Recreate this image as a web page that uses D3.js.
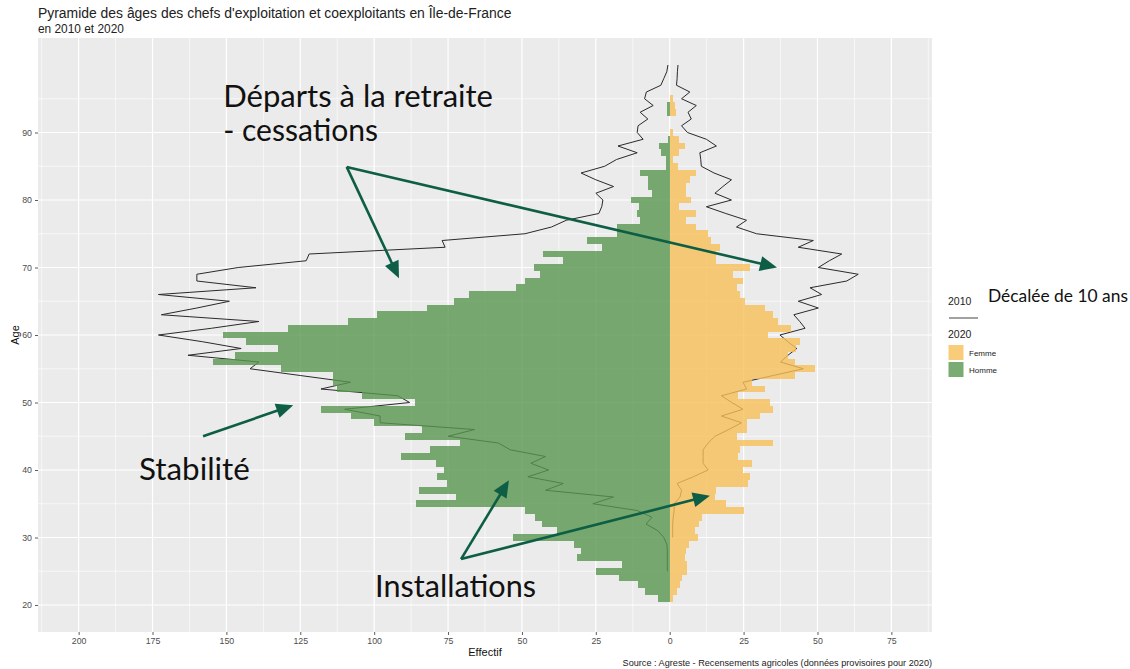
<!DOCTYPE html>
<html><head><meta charset="utf-8">
<script src="https://cdn.jsdelivr.net/npm/d3@7"></script>
<style>body{margin:0;background:#fff}svg{display:block}</style>
</head><body>
<svg id="c" width="1130" height="669"></svg>
<script>
// ---------- data ----------
const ages2020 = [21,22,23,24,25,26,27,28,29,30,31,32,33,34,35,36,37,38,39,40,
  41,42,43,44,45,46,47,48,49,50,51,52,53,54,55,56,57,58,59,60,
  61,62,63,64,65,66,67,68,69,70,71,72,73,74,75,76,77,78,79,80,
  81,82,83,84,85,86,87,88,89,90,91,92,93,94,95];
const hommes2020 = [4,8.5,10.7,17,25,16,31.5,30,32.5,53,
  38.2,43.3,45.6,49,86,72.2,84.7,75.4,78.9,76.3,
  79.2,90.9,81,71,89.7,83.8,100,108,118,86.2,
  104,112.6,113.8,113.8,131.4,154.4,147.1,132.6,143.5,151.3,
  129,109,99,82,73,68,52,49,44,46,
  36,43,23,28,18,18,10,11,10.5,13,
  6,7.5,7.5,10,1.4,1.4,2.8,3.6,0.6,0,
  0,0,0.8,0.8,0];
const femmes2020 = [1.1,2.3,3.4,4,6,6,5.2,5.5,6.5,9.5,
  8.5,10,11,25,19,15.3,15.8,26.6,27.1,24.9,
  27.7,23.2,23.7,35,22.6,26,26,30.5,35,33.9,
  23.2,32.2,27.7,42.4,49,42.4,40,42.7,44,33.3,
  41.2,36.7,35,32.2,25.4,23.7,22.6,24.9,21.5,27.1,
  15.8,15.8,17,14.1,13,9,5.6,9,3,7.3,
  5.6,5.4,6.8,9,2.8,1,3.2,5.1,3.2,1,
  0,0,2,1.7,1];

// 2010 (shifted by 10 years: plotted at age + 10)
const agesH2010 = [25,26,27,28,29,30,31,32,33,34,35,36,37,38,39,40,
  41,42,43,44,45,46,47,48,49,50,51,52,53,54,55,56,57,58,59,60,
  61,62,63,64,65,66,67,68,69,70,71,72,73,74,75,76,77,78,79,80,
  81,82,83,84,85,86,87,88,89,90,91,92,93,94,95,96,97,98,99,100];
const hommes2010 = [0.8,0.8,0.8,0.8,1,2,4,8,6,11,
  26,19,42,36,48,41,47,42,54,58,
  75,66,98,98,110,88,92,118,108,125,
  142,139,163,145,158,173,155,139,172,160,
  149,173,140,160,160,146,123,122,76,77,
  49,40,35,24,23,22.6,25,19,25,30,
  22,18,11,17.5,9,11,10.7,7.4,10,5.6,
  8.5,7.9,3,2,1,0.6];
const agesF2010 = [30,31,32,33,34,35,36,37,38,39,40,
  41,42,43,44,45,46,47,48,49,50,51,52,53,54,55,56,57,58,59,60,
  61,62,63,64,65,66,67,68,69,70,71,72,73,74,75,76,77,78,79,80,
  81,82,83,84,85,86,87,88,89,90,91,92,93,94,95,96,97,98,99,100];
const femmes2010 = [1,1,1,1.2,1.5,1.5,3.5,4,2.5,8,
  13,11.3,11.3,11.3,13,15.3,20,24.3,17.5,24.8,
  21,17.5,26,24.8,35,45.2,37.5,40,43,40,
  37.3,45.8,44,42,50.3,43.5,51.4,47.5,59.9,63.8,
  50.3,54,58.2,43.5,48.6,29.4,22.6,26,19,12.4,
  20.9,15.3,18,20.9,15,10.7,10.5,10.2,15.8,12.4,
  6,4,7.3,6.2,9,4,6.8,2.3,2.5,2.6,2.8];

const xTicks = [-200,-175,-150,-125,-100,-75,-50,-25,0,25,50,75];
const yTicks = [20,30,40,50,60,70,80,90];

// annotations (in data coordinates: effectif signed, age)
const annotTexts = ["Départs à la retraite", "- cessations", "Stabilité", "Installations"];
const annotPos = [[-151.1, 93.8], [-151.1, 88.8], [-179.6, 38.5], [-99.7, 21.2]];
const annotWidth = [270, 155, 111, 161];
const arrows = [
  [[-109.3, 84.9], [-91.6, 68.4]],
  [[-109.3, 84.9], [36.3, 70.0]],
  [[-157.9, 45.0], [-127.4, 49.6]],
  [[-70.6, 26.8], [-54.4, 38.5]],
  [[-70.6, 26.8], [13.6, 36.2]]
];

// ---------- layout ----------
const svg = d3.select("#c");
const P = {l: 38, r: 932, t: 38, b: 632};
const x = d3.scaleLinear().domain([-213.75, 88.75]).range([P.l, P.r]);
const y = d3.scaleLinear().domain([16, 104]).range([P.b, P.t]);

const GREEN = "#59964F", YELLOW = "#F8BF59", ARROW = "#0D5E45";
const SANS = "'Liberation Sans', Arial, sans-serif";
const ANN = "Lato, 'Open Sans', sans-serif";

svg.append("rect").attr("width", 1130).attr("height", 669).attr("fill", "#fff");
svg.append("rect").attr("x", P.l).attr("y", P.t).attr("width", P.r - P.l).attr("height", P.b - P.t).attr("fill", "#EBEBEB");

// minor grid
const xMinor = [xTicks[0] - 12.5].concat(xTicks.map(d => d + 12.5)).filter(d => d > -213.75 && d < 88.75);
const yMinor = yTicks.map(d => d + 5).concat([yTicks[0] - 5]).filter(d => d > 16 && d < 104);
const g = svg.append("g");
g.selectAll(".xm").data(xMinor).join("line").attr("x1", d => x(d)).attr("x2", d => x(d))
  .attr("y1", P.t).attr("y2", P.b).attr("stroke", "#fff").attr("stroke-width", 0.6);
g.selectAll(".ym").data(yMinor).join("line").attr("y1", d => y(d)).attr("y2", d => y(d))
  .attr("x1", P.l).attr("x2", P.r).attr("stroke", "#fff").attr("stroke-width", 0.6);
g.selectAll(".xM").data(xTicks).join("line").attr("x1", d => x(d)).attr("x2", d => x(d))
  .attr("y1", P.t).attr("y2", P.b).attr("stroke", "#fff").attr("stroke-width", 1.2);
g.selectAll(".yM").data(yTicks).join("line").attr("y1", d => y(d)).attr("y2", d => y(d))
  .attr("x1", P.l).attr("x2", P.r).attr("stroke", "#fff").attr("stroke-width", 1.2);

// 2010 lines (under the translucent bars)
const line = d3.line().x(d => x(d[0])).y(d => y(d[1]));
svg.append("path").datum(agesH2010.map((a, i) => [-hommes2010[i], a]))
  .attr("d", line).attr("fill", "none").attr("stroke", "#2a2a2a").attr("stroke-width", 1);
svg.append("path").datum(agesF2010.map((a, i) => [femmes2010[i], a]))
  .attr("d", line).attr("fill", "none").attr("stroke", "#2a2a2a").attr("stroke-width", 1);

// 2020 bars (edges snapped to whole pixels so neighbouring bars meet without seams)
const yTop = a => Math.round(y(a + 0.5)), yBot = a => Math.round(y(a - 0.5));
const x0 = Math.round(x(0));
const bars = svg.append("g").attr("fill-opacity", 0.8).attr("shape-rendering", "crispEdges");
bars.selectAll(".h").data(ages2020.map((a, i) => [a, hommes2020[i]])).join("rect")
  .attr("x", d => x(-d[1])).attr("width", d => Math.max(0, x0 - x(-d[1])))
  .attr("y", d => yTop(d[0])).attr("height", d => yBot(d[0]) - yTop(d[0]))
  .attr("fill", GREEN);
bars.selectAll(".f").data(ages2020.map((a, i) => [a, femmes2020[i]])).join("rect")
  .attr("x", x0).attr("width", d => Math.max(0, x(d[1]) - x0))
  .attr("y", d => yTop(d[0])).attr("height", d => yBot(d[0]) - yTop(d[0]))
  .attr("fill", YELLOW);

// axes
const xAxis = svg.append("g").attr("transform", `translate(0,${P.b})`)
  .call(d3.axisBottom(x).tickValues(xTicks).tickFormat(d => Math.abs(d)).tickSize(3).tickPadding(3));
const yAxis = svg.append("g").attr("transform", `translate(${P.l},0)`)
  .call(d3.axisLeft(y).tickValues(yTicks).tickSize(3).tickPadding(3));
[xAxis, yAxis].forEach(a => {
  a.select(".domain").remove();
  a.selectAll(".tick line").attr("stroke", "#333").attr("stroke-width", 0.8);
  a.selectAll(".tick text").attr("fill", "#4D4D4D").attr("font-family", SANS).attr("font-size", 8.8);
});

svg.append("text").attr("x", (P.l + P.r) / 2).attr("y", 656).attr("text-anchor", "middle")
  .attr("font-family", SANS).attr("font-size", 11).attr("fill", "#111").text("Effectif");
svg.append("text").attr("transform", `translate(19,${(P.t + P.b) / 2}) rotate(-90)`).attr("text-anchor", "middle")
  .attr("font-family", SANS).attr("font-size", 11).attr("fill", "#111").text("Age");

function fit(sel, w) {
  const cur = sel.node().getComputedTextLength();
  const fs = parseFloat(sel.attr("font-size"));
  if (cur > 0) sel.attr("font-size", fs * w / cur);
  return sel;
}

// titles
fit(svg.append("text").attr("x", P.l).attr("y", 18).attr("font-family", SANS).attr("font-size", 13)
  .attr("fill", "#222").text("Pyramide des âges des chefs d'exploitation et coexploitants en Île-de-France"), 474);
fit(svg.append("text").attr("x", P.l).attr("y", 33).attr("font-family", SANS).attr("font-size", 10.5)
  .attr("fill", "#222").text("en 2010 et 2020"), 86);
fit(svg.append("text").attr("x", P.r).attr("y", 666).attr("text-anchor", "end").attr("font-family", SANS)
  .attr("font-size", 8.8).attr("fill", "#222")
  .text("Source : Agreste - Recensements agricoles (données provisoires pour 2020)"), 310);

// legend
const lg = svg.append("g").attr("font-family", SANS).attr("fill", "#222");
lg.append("text").attr("x", 948).attr("y", 305).attr("font-size", 10.5).text("2010");
lg.append("line").attr("x1", 949).attr("x2", 978).attr("y1", 318).attr("y2", 318)
  .attr("stroke", "#555").attr("stroke-width", 1.1);
lg.append("text").attr("x", 948).attr("y", 338).attr("font-size", 10.5).text("2020");
const legItems = [["Femme", YELLOW], ["Homme", GREEN]];
legItems.forEach((it, i) => {
  lg.append("rect").attr("x", 948.5).attr("y", 345 + i * 17).attr("width", 15).attr("height", 15)
    .attr("fill", it[1]).attr("fill-opacity", 0.8);
  lg.append("text").attr("x", 969).attr("y", 355.5 + i * 17).attr("font-size", 8).text(it[0]);
});
fit(svg.append("text").attr("x", 988).attr("y", 302).attr("font-family", ANN).attr("font-size", 17)
  .attr("fill", "#111").text("Décalée de 10 ans"), 140);

// annotations
annotTexts.forEach((t, i) => {
  fit(svg.append("text").attr("x", x(annotPos[i][0])).attr("y", y(annotPos[i][1]))
    .attr("font-family", ANN).attr("font-size", 27).attr("fill", "#111").text(t), annotWidth[i]);
});
arrows.forEach(a => {
  const x1 = x(a[0][0]), y1 = y(a[0][1]), x2 = x(a[1][0]), y2 = y(a[1][1]);
  const ang = Math.atan2(y2 - y1, x2 - x1), L = 17, W = 7.5;
  const bx = x2 - L * Math.cos(ang), by = y2 - L * Math.sin(ang);
  svg.append("line").attr("x1", x1).attr("y1", y1).attr("x2", bx + 2 * Math.cos(ang)).attr("y2", by + 2 * Math.sin(ang))
    .attr("stroke", ARROW).attr("stroke-width", 2.6);
  const px = -Math.sin(ang), py = Math.cos(ang);
  svg.append("polygon").attr("points", [[x2, y2], [bx + W * px, by + W * py], [bx - W * px, by - W * py]].map(p => p.join(",")).join(" "))
    .attr("fill", ARROW);
});
</script>
</body></html>
